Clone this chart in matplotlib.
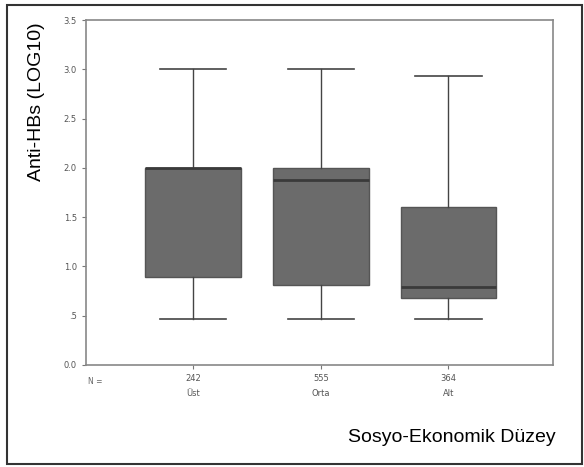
import matplotlib.pyplot as plt
from matplotlib.patches import Rectangle

# summary stats (LOG10 anti-HBs)
groups = ['Üst', 'Orta', 'Alt']
counts = ['242', '555', '364']
whislo = [0.47, 0.47, 0.47]
q1 = [0.89, 0.81, 0.68]
med = [2.0, 1.88, 0.79]
q3 = [2.0, 2.0, 1.60]
whishi = [3.0, 3.0, 2.93]

stats = []
for i in range(len(groups)):
    stats.append({'whislo': whislo[i], 'q1': q1[i], 'med': med[i],
                  'q3': q3[i], 'whishi': whishi[i], 'fliers': []})

fig = plt.figure(figsize=(5.84, 4.67), dpi=100)
# outer frame
fig.patches.append(Rectangle((7/584, 3/467), 575/584, 459/467,
                             transform=fig.transFigure, fill=False,
                             edgecolor='#333333', linewidth=1.5))

ax = fig.add_axes([86/584, 102/467, 467/584, 345/467])
ax.bxp(stats, positions=[1, 2, 3], widths=0.75, capwidths=0.52,
       patch_artist=True, showfliers=False,
       boxprops=dict(facecolor='#6b6b6b', edgecolor='#555555', linewidth=1),
       medianprops=dict(color='#3a3a3a', linewidth=2),
       whiskerprops=dict(color='#444444', linewidth=1),
       capprops=dict(color='#444444', linewidth=1.2))

ax.set_xlim(0.16, 3.82)
ax.set_ylim(0, 3.5)
ax.set_yticks([0, 0.5, 1.0, 1.5, 2.0, 2.5, 3.0, 3.5])
ax.set_yticklabels(['0.0', '.5', '1.0', '1.5', '2.0', '2.5', '3.0', '3.5'])
ax.set_xticks([1, 2, 3])
ax.set_xticklabels([c + '\n' + g for c, g in zip(counts, groups)],
                   linespacing=1.9)
ax.tick_params(labelsize=6, colors='#777777', length=3, width=0.8)
for lbl in ax.get_xticklabels() + ax.get_yticklabels():
    lbl.set_color('#555555')
for s in ax.spines.values():
    s.set_color('#888888')
    s.set_linewidth(1.2)

ax.text(0.005, -0.035, 'N =', transform=ax.transAxes, fontsize=5.5,
        color='#666666', ha='left', va='top')

fig.text(37/584, 1 - 102/467, 'Anti-HBs (LOG10)', rotation=90,
         fontsize=14, family='Liberation Sans', ha='center', va='center')
fig.text(556/584, 1 - 438/467, 'Sosyo-Ekonomik Düzey', fontsize=14,
         family='Liberation Sans', ha='right', va='center')

fig.savefig('out.png', dpi=100)
